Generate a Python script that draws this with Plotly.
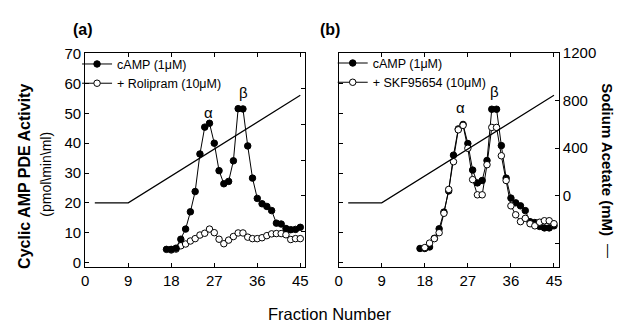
import plotly.graph_objects as go

# ---------------- data ----------------
frac_ctrl = list(range(17, 46))
frac_inh = list(range(18, 46))

camp_a = [4.4, 4.4, 4.8, 7.8, 11.2, 17.0, 23.8, 36.4, 45.4, 46.7, 40.0, 30.8, 26.4, 27.2,
          34.1, 51.6, 51.5, 39.1, 28.3, 21.5, 19.7, 18.8, 17.4, 13.2, 12.9, 11.4, 11.0, 11.1, 11.8]
rolipram = [4.2, 4.5, 5.6, 6.2, 7.2, 8.0, 9.2, 9.8, 11.2, 10.0, 7.8, 6.3, 7.5, 8.7,
            9.9, 9.9, 8.5, 8.0, 8.0, 8.3, 9.0, 9.6, 9.7, 9.7, 9.3, 7.7, 8.0, 8.0]

camp_b = [4.7, 4.7, 5.2, 8.1, 11.3, 16.9, 24.0, 36.0, 44.8, 46.3, 39.9, 31.0, 26.7, 27.5,
          34.2, 51.4, 51.4, 39.2, 28.3, 21.6, 20.0, 19.0, 17.4, 13.7, 13.4, 12.1, 11.6, 11.6, 12.3]
skf = [5.0, 6.5, 8.0, 10.0, 16.5, 24.5, 33.8, 44.5, 46.0, 38.3, 27.8, 22.7, 22.7, 32.8,
       45.3, 45.3, 35.8, 27.5, 19.0, 16.0, 13.7, 14.8, 13.0, 12.3, 13.5, 14.0, 14.0, 13.0]

grad_x = [2, 9, 45]
grad_mM = [-60, -60, 845]

x_ticks = [0, 9, 18, 27, 36, 45]
pde_ticks = [0, 10, 20, 30, 40, 50, 60, 70]
na_ticks_a = [-300, 0, 300, 600, 900]
na_ticks_b = [-400, 0, 400, 800, 1200]
na_text_b = ["", "0", "400", "800", "1200"]

peak_labels = ["α", "β"]
peak_x_a = [25.7, 33.1]
peak_y_a = [50.2, 57.0]
peak_x_b = [25.4, 32.5]
peak_y_b = [52.0, 57.2]

FONT = "Liberation Sans, Arial, sans-serif"
W, H = 622, 331

fig = go.Figure()

mk_f = dict(symbol="circle", size=6.5, color="black", line=dict(color="black", width=1))
mk_o = dict(symbol="circle", size=6.5, color="white", line=dict(color="black", width=1))
ln = dict(color="black", width=1)

# left panel
fig.add_trace(go.Scatter(x=frac_inh, y=rolipram, mode="lines+markers", marker=mk_o, line=ln,
                         name="+ Rolipram (10μM)", xaxis="x", yaxis="y", legend="legend", legendrank=2))
fig.add_trace(go.Scatter(x=frac_ctrl, y=camp_a, mode="lines+markers", marker=mk_f, line=ln,
                         name="cAMP (1μM)", xaxis="x", yaxis="y", legend="legend", legendrank=1))
fig.add_trace(go.Scatter(x=grad_x, y=grad_mM, mode="lines", line=dict(color="black", width=1.2),
                         showlegend=False, xaxis="x", yaxis="y2"))
# right panel
fig.add_trace(go.Scatter(x=frac_ctrl, y=camp_b, mode="lines+markers", marker=mk_f, line=ln,
                         name="cAMP (1μM)", xaxis="x2", yaxis="y3", legend="legend2", legendrank=1))
fig.add_trace(go.Scatter(x=frac_inh, y=skf, mode="lines+markers", marker=mk_o, line=ln,
                         name="+ SKF95654 (10μM)", xaxis="x2", yaxis="y3", legend="legend2", legendrank=2))
fig.add_trace(go.Scatter(x=grad_x, y=grad_mM, mode="lines", line=dict(color="black", width=1.2),
                         showlegend=False, xaxis="x2", yaxis="y4"))

ydom = [1 - 268.5 / H, 1 - 46 / H]
xdom_a = [82.3 / W, 305 / W]
xdom_b = [339 / W, 562 / W]

tickfont = dict(family=FONT, size=15, color="black")
common_x = dict(range=[0, 46], tickvals=x_ticks, ticks="inside", ticklen=4, tickwidth=1,
                tickcolor="black", showline=True, linecolor="black", linewidth=1.2, mirror="ticks",
                showgrid=False, zeroline=False, tickfont=tickfont)
common_y = dict(range=[-1.5, 70.2], tickvals=pde_ticks, ticks="inside", ticklen=4, tickwidth=1,
                tickcolor="black", showline=True, linecolor="black", linewidth=1.2,
                showgrid=False, zeroline=False, tickfont=tickfont, domain=ydom)
common_na = dict(range=[-600, 1200], ticks="inside", ticklen=4, tickwidth=1, tickcolor="black",
                 showline=True, linecolor="black", linewidth=1.2, showgrid=False, zeroline=False,
                 side="right", tickfont=tickfont)

legfont = dict(family=FONT, size=12.5, color="black")
fig.update_layout(
    width=W, height=H, margin=dict(l=0, r=0, t=0, b=0),
    paper_bgcolor="white", plot_bgcolor="white",
    font=dict(family=FONT, color="black"),
    xaxis=dict(domain=xdom_a, anchor="y", **common_x),
    yaxis=dict(anchor="x", **common_y),
    yaxis2=dict(anchor="x", overlaying="y", tickvals=na_ticks_a, showticklabels=False, **common_na),
    xaxis2=dict(domain=xdom_b, anchor="y3", **common_x),
    yaxis3=dict(anchor="x2", showticklabels=False, **common_y),
    yaxis4=dict(anchor="x2", overlaying="y3", tickvals=na_ticks_b, ticktext=na_text_b, **common_na),
    legend=dict(x=74 / W, y=1 - 42 / H, xanchor="left", yanchor="top", bgcolor="rgba(0,0,0,0)",
                font=legfont, tracegroupgap=0, itemwidth=30),
    legend2=dict(x=333 / W, y=1 - 41 / H, xanchor="left", yanchor="top", bgcolor="rgba(0,0,0,0)",
                 font=legfont, tracegroupgap=0, itemwidth=30),
    showlegend=True,
)

ann = []
for lab, px, py in zip(peak_labels, peak_x_a, peak_y_a):
    ann.append(dict(x=px, y=py, xref="x", yref="y", text=lab, showarrow=False,
                    font=dict(family=FONT, size=15, color="black")))
for lab, px, py in zip(peak_labels, peak_x_b, peak_y_b):
    ann.append(dict(x=px, y=py, xref="x2", yref="y3", text=lab, showarrow=False,
                    font=dict(family=FONT, size=15, color="black")))

ann += [
    dict(x=68 / W, y=1 - 21 / H, xref="paper", yref="paper", text="<b>(a)</b>", showarrow=False,
         xanchor="left", yanchor="middle", font=dict(family=FONT, size=16, color="black")),
    dict(x=318 / W, y=1 - 21 / H, xref="paper", yref="paper", text="<b>(b)</b>", showarrow=False,
         xanchor="left", yanchor="middle", font=dict(family=FONT, size=16, color="black")),
    dict(x=20 / W, y=1 - 174 / H, xref="paper", yref="paper", text="<b>Cyclic AMP PDE Activity</b>",
         textangle=-90, showarrow=False, xanchor="center", yanchor="middle",
         font=dict(family=FONT, size=16, color="black")),
    dict(x=43 / W, y=1 - 172 / H, xref="paper", yref="paper", text="(pmol\\min\\ml)",
         textangle=-90, showarrow=False, xanchor="center", yanchor="middle",
         font=dict(family=FONT, size=14, color="black")),
    dict(x=612 / W, y=1 - 156.5 / H, xref="paper", yref="paper", text="<b>Sodium Acetate (mM)</b>",
         textangle=90, showarrow=False, xanchor="center", yanchor="middle",
         font=dict(family=FONT, size=15, color="black")),
    dict(x=613 / W, y=1 - 252 / H, xref="paper", yref="paper", text="—",
         textangle=90, showarrow=False, xanchor="center", yanchor="middle",
         font=dict(family=FONT, size=14, color="black")),
    dict(x=330 / W, y=1 - 317 / H, xref="paper", yref="paper", text="Fraction Number",
         showarrow=False, xanchor="center", yanchor="middle",
         font=dict(family=FONT, size=16.5, color="black")),
]
fig.update_layout(annotations=ann)

fig.write_html("out.html")
